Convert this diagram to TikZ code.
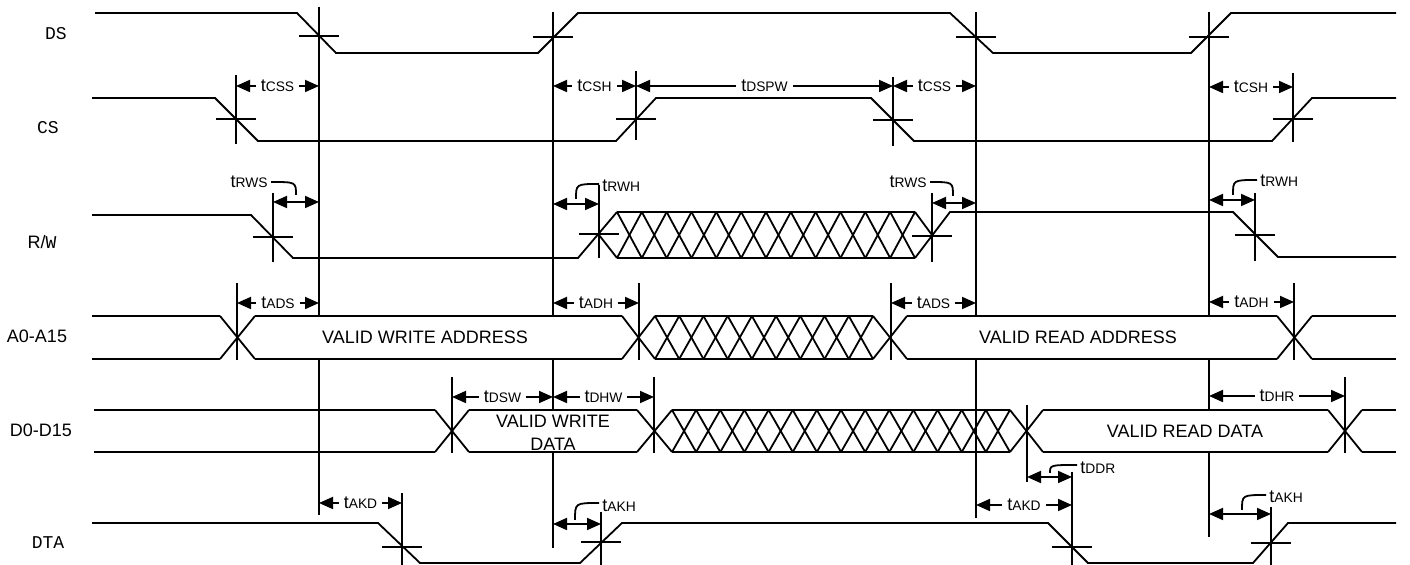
\documentclass[tikz,border=0pt]{standalone}
\usepackage{fontspec}
\setmainfont{Liberation Sans}
\setsansfont{Liberation Sans}
\setmonofont{Liberation Mono}
\usetikzlibrary{arrows.meta}
\newcommand\tsub[1]{t{\fontsize{6.9}{7.5}\selectfont #1}}
\newcommand\hatchX[5]{%
  \pgfmathsetmacro\hw{(#2-#1)/#5}%
  \foreach \i in {1,...,#5} {%
    \draw[sig] ({#1+(\i-1)*\hw},#3) -- ({#1+\i*\hw},#4);
    \draw[sig] ({#1+(\i-1)*\hw},#4) -- ({#1+\i*\hw},#3);
  }%
  \draw[sig] (#1,#3) -- (#2,#3);
  \draw[sig] (#1,#4) -- (#2,#4);}
\newcommand\busX[4]{%
  \draw[sig] (#1-#2,#3) -- (#1+#2,#4);
  \draw[sig] (#1-#2,#4) -- (#1+#2,#3);}
\newcommand\crossT[4]{%
  \draw[sig] (#1-20,#2) -- (#1+20,#2);
  \draw[sig] (#1,#3) -- (#1,#4);}
\begin{document}
\begin{tikzpicture}[x=0.5pt,y=-0.5pt,
  sig/.style={line width=0.9pt, line join=miter},
  dim/.style={line width=0.9pt, {Triangle[length=7pt,width=6pt]}-{Triangle[length=7pt,width=6pt]}},
  lead/.style={line width=0.9pt},
  dl/.style={fill=white, inner xsep=2.5pt, inner ysep=1pt, font=\fontsize{9}{10}\selectfont},
  fl/.style={inner sep=0pt, font=\fontsize{9}{10}\selectfont},
  sigl/.style={font=\sffamily\fontsize{9}{10}\selectfont},
  sigm/.style={font=\ttfamily\fontsize{9}{10}\selectfont}]
\useasboundingbox (0,0) rectangle (1410,565);

% signal names
\node[sigm] (nDS) at (56,34) {DS};
\node[sigm] (nCS) at (48,128) {CS};
\node[sigl] (nRW) at (42,242) {R/{\ttfamily W}};
\node[sigl] (nA) at (37,336) {A0-A15};
\node[sigl] (nD) at (41,430) {D0-D15};
\node[sigm] (nDTA) at (48,543) {DTA};

% long reference lines (interrupted inside valid bus fields)
\draw[sig] (319,7) -- (319,316);
\draw[sig] (319,359) -- (319,515);
\draw[sig] (553,12) -- (553,316);
\draw[sig] (553,359) -- (553,410);
\draw[sig] (553,452) -- (553,548);
\draw[sig] (976,12) -- (976,316);
\draw[sig] (976,359) -- (976,518);
\draw[sig] (1209,12) -- (1209,316);
\draw[sig] (1209,359) -- (1209,410);
\draw[sig] (1209,452) -- (1209,537);

% DS
\draw[sig] (95,13) -- (297,13) -- (336,53) -- (538,53) -- (578,13) -- (950,13) -- (993,53) -- (1191,53) -- (1231,13) -- (1396,13);
\draw[sig] (299,36) -- (339,36);
\draw[sig] (533,37) -- (573,37);
\draw[sig] (956,37) -- (996,37);
\draw[sig] (1189,37) -- (1229,37);

% CS
\draw[sig] (92,98) -- (215,98) -- (258,141) -- (616,141) -- (656,98) -- (871,98) -- (914,141) -- (1272,141) -- (1312,98) -- (1396,98);
\crossT{236}{119}{75}{144}
\crossT{636}{119}{71}{140}
\crossT{893}{120}{77}{146}
\crossT{1293}{119}{73}{142}

% R/W
\draw[sig] (92,215) -- (251,215) -- (293,258) -- (578,258) -- (617,212);
\draw[sig] (599,235) -- (617,258);
\hatchX{617}{915}{212}{258}{12}
\draw[sig] (915,212) -- (932,235);
\draw[sig] (915,258) -- (950,212) -- (1233,212) -- (1278,257) -- (1396,257);
\crossT{273}{237}{193}{262}
\crossT{599}{234}{185}{258}
\crossT{932}{236}{193}{262}
\crossT{1255}{235}{193}{261}

% A0-A15
\draw[sig] (92,316) -- (220,316);
\draw[sig] (92,359) -- (220,359);
\busX{237.5}{17.5}{316}{359}
\draw[sig] (255,316) -- (622,316);
\draw[sig] (255,359) -- (622,359);
\busX{638.5}{16.5}{316}{359}
\hatchX{655}{873}{316}{359}{9}
\busX{890}{17}{316}{359}
\draw[sig] (907,316) -- (1277,316);
\draw[sig] (907,359) -- (1277,359);
\busX{1294.5}{17.5}{316}{359}
\draw[sig] (1312,316) -- (1396,316);
\draw[sig] (1312,359) -- (1396,359);
\foreach \x in {237,639,891,1294} \draw[sig] (\x,283) -- (\x,360);
\node[fl] (vwa) at (425,337) {VALID WRITE ADDRESS};
\node[fl] (vra) at (1078,337) {VALID READ ADDRESS};

% D0-D15
\draw[sig] (94,410) -- (435,410);
\draw[sig] (94,452) -- (435,452);
\busX{452}{17}{410}{452}
\draw[sig] (469,410) -- (637,410);
\draw[sig] (469,452) -- (637,452);
\busX{654.5}{17.5}{410}{452}
\hatchX{672}{1010}{410}{452}{14}
\busX{1026.5}{16.5}{410}{452}
\draw[sig] (1043,410) -- (1328,410);
\draw[sig] (1043,452) -- (1328,452);
\busX{1345}{17}{410}{452}
\draw[sig] (1362,410) -- (1396,410);
\draw[sig] (1362,452) -- (1396,452);
\draw[sig] (452,377) -- (452,453);
\draw[sig] (654,377) -- (654,453);
\draw[sig] (1027,405) -- (1027,482);
\draw[sig] (1345,377) -- (1345,453);
\node[fl, align=center] (vwd) at (553,433) {VALID WRITE\\[1.5pt]DATA};
\node[fl] (vrd) at (1185,431) {VALID READ DATA};

% DTA
\draw[sig] (92,523) -- (378,523) -- (420,563) -- (580,563) -- (622,523) -- (1048,523) -- (1088,563) -- (1253,563) -- (1288,523) -- (1396,523);
\crossT{402}{547}{493}{565}
\crossT{601}{542}{512}{565}
\crossT{1072}{547}{472}{565}
\crossT{1271}{543}{507}{565}

% dimension arrows with inline labels
\draw[dim] (236,86) -- node[dl] (lcss1) {\tsub{CSS}} (319,86);
\draw[dim] (553,86) -- node[dl] (lcsh1) {\tsub{CSH}} (636,86);
\draw[dim] (636,86) -- node[dl] (ldspw) {\tsub{DSPW}} (893,86);
\draw[dim] (893,86) -- node[dl] (lcss2) {\tsub{CSS}} (976,86);
\draw[dim] (1209,87) -- node[dl] (lcsh2) {\tsub{CSH}} (1293,87);
\draw[dim] (237,303) -- node[dl] (lads1) {\tsub{ADS}} (319,303);
\draw[dim] (553,303) -- node[dl] (ladh1) {\tsub{ADH}} (639,303);
\draw[dim] (891,303) -- node[dl] (lads2) {\tsub{ADS}} (976,303);
\draw[dim] (1209,302) -- node[dl] (ladh2) {\tsub{ADH}} (1294,302);
\draw[dim] (452,397) -- node[dl] (ldsw) {\tsub{DSW}} (553,397);
\draw[dim] (553,397) -- node[dl] (ldhw) {\tsub{DHW}} (654,397);
\draw[dim] (1209,396) -- node[dl] (ldhr) {\tsub{DHR}} (1345,396);
\draw[dim] (319,503) -- node[dl] (lakd1) {\tsub{AKD}} (402,503);
\draw[dim] (976,505) -- node[dl] (lakd2) {\tsub{AKD}} (1072,505);

% short arrows with leader labels
\draw[dim] (273,202) -- (319,202);
\node[fl, anchor=east] (lrws1) at (268,182) {\tsub{RWS}};
\draw[lead] (271,182) .. controls (296,182) .. (296,195);

\draw[dim] (553,204) -- (599,204);
\node[fl, anchor=west] (lrwh1) at (602,186) {\tsub{RWH}};
\draw[lead] (599,184) .. controls (576,184) .. (576,199);

\draw[dim] (932,203) -- (976,203);
\node[fl, anchor=east] (lrws2) at (927,182) {\tsub{RWS}};
\draw[lead] (930,182) .. controls (953,182) .. (953,196);

\draw[dim] (1209,200) -- (1255,200);
\node[fl, anchor=west] (lrwh2) at (1260,181) {\tsub{RWH}};
\draw[lead] (1257,180) .. controls (1233,180) .. (1233,195);

\draw[dim] (1027,477) -- (1072,477);
\node[fl, anchor=west] (lddr) at (1080,468) {\tsub{DDR}};
\draw[lead] (1077,465) .. controls (1050,465) .. (1050,473);

\draw[dim] (553,524) -- (601,524);
\node[fl, anchor=west] (lakh1) at (602,506) {\tsub{AKH}};
\draw[lead] (599,503) .. controls (575,503) .. (575,520);

\draw[dim] (1209,514) -- (1271,514);
\node[fl, anchor=west] (lakh2) at (1269,497) {\tsub{AKH}};
\draw[lead] (1266,495) .. controls (1242,495) .. (1242,510);
\end{tikzpicture}
\end{document}
